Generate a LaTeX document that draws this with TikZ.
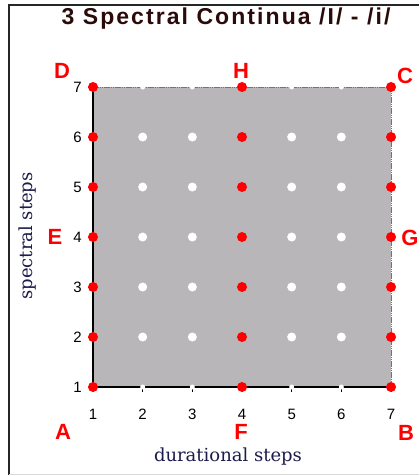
\documentclass[tikz,border=0pt]{standalone}
\usepackage{fontspec}
\setmainfont{Liberation Serif}
\setsansfont{Liberation Sans}
\newfontfamily\axfont{DejaVu Serif}
\definecolor{plotgray}{HTML}{B8B6B8}
\definecolor{titlecol}{HTML}{2B0A0A}
\definecolor{navy}{HTML}{1C1C4C}
\definecolor{red}{HTML}{FF0000}
\begin{document}
\begin{tikzpicture}[x=1pt,y=-1pt,
  reddot/.style={circle,fill=red,inner sep=0pt,minimum size=10pt},
  whitedot/.style={circle,fill=white,inner sep=0pt,minimum size=9pt},
  edgedot/.style={circle,fill=white,inner sep=0pt,minimum size=5pt},
  corner/.style={text=red,font=\sffamily\bfseries\fontsize{22}{22}\selectfont,inner sep=0pt},
  ticklab/.style={font=\sffamily\fontsize{15}{15}\selectfont,inner sep=0pt},
  axlab/.style={text=navy,font=\axfont\fontsize{18}{18}\selectfont,inner sep=0pt}]
\useasboundingbox (0,0) rectangle (419,475);
\fill[white] (0,0) rectangle (419,475);
% frame
\draw[line width=1.5pt, black!85] (9,475) -- (9,5) -- (419,5);
\draw[black!15] (9,474) -- (419,474);
% title
\node[font=\sffamily\bfseries\fontsize{23}{23}\selectfont\addfontfeature{LetterSpace=9},text=titlecol] (title) at (226,19) {3 Spectral Continua /I/ - /i/};
% plot area
\fill[plotgray] (93,87) rectangle (391,387);
\draw[black!55, dash pattern=on 1.5pt off 0.7pt] (93,87) -- (391,87) -- (391,387);
\draw[line width=1.2pt] (93,87) -- (93,387) -- (391,387);
% ticks and tick labels
\foreach \j in {1,...,7} {
  \pgfmathsetmacro{\yy}{387-(\j-1)*50}
  \draw (88,\yy) -- (93,\yy);
  \node[ticklab,anchor=east] (ylab\j) at (82,\yy) {\j};
}
\foreach \i in {1,...,7} {
  \pgfmathsetmacro{\xx}{93+(\i-1)*49.67}
  \draw (\xx,387) -- (\xx,392);
  \node[ticklab] (xlab\i) at (\xx,414) {\i};
}
% white dots on edges
\foreach \i in {2,3,5,6} {
  \pgfmathsetmacro{\xx}{93+(\i-1)*49.67}
  \node[edgedot] (top\i) at (\xx,87) {};
  \node[edgedot] (bot\i) at (\xx,387) {};
}
% interior white dots
\foreach \i in {2,3,5,6} {
  \foreach \j in {2,...,6} {
    \pgfmathsetmacro{\xx}{93+(\i-1)*49.67}
    \pgfmathsetmacro{\yy}{387-(\j-1)*50}
    \node[whitedot] (w\i\j) at (\xx,\yy) {};
  }
}
% red dots
\foreach \i in {1,4,7} {
  \foreach \j in {1,...,7} {
    \pgfmathsetmacro{\xx}{93+(\i-1)*49.67}
    \pgfmathsetmacro{\yy}{387-(\j-1)*50}
    \node[reddot] (r\i\j) at (\xx,\yy) {};
  }
}
% corner letters
\node[corner] (D) at (62,71) {D};
\node[corner] (H) at (241,71) {H};
\node[corner] (C) at (405,76) {C};
\node[corner] (E) at (55,237) {E};
\node[corner] (G) at (410,238) {G};
\node[corner] (A) at (63,432) {A};
\node[corner] (F) at (241,432) {F};
\node[corner] (B) at (406,433) {B};
% axis labels
\node[axlab] (xaxis) at (228,457) {durational steps};
\node[axlab,rotate=90] (yaxis) at (28,236) {spectral steps};
\end{tikzpicture}
\end{document}
